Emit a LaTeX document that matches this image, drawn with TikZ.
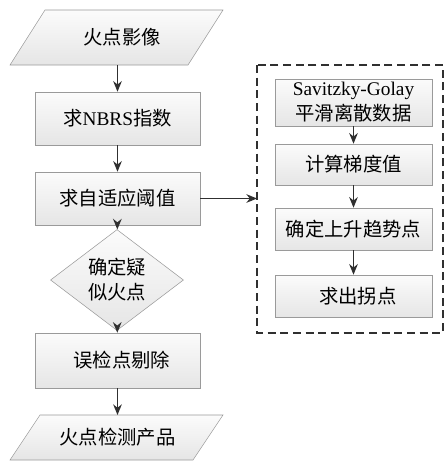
\documentclass[tikz,border=0pt]{standalone}
\usepackage{fontspec}
\setmainfont{Liberation Serif}
\newfontfamily\cjk{Noto Sans CJK SC}
\usetikzlibrary{shapes.geometric,arrows.meta}
\definecolor{edgegray}{HTML}{9A9A9A}
\definecolor{linegray}{HTML}{303030}
\tikzset{
  boxstyle/.style={draw=edgegray, top color=gray!3, bottom color=gray!20, minimum width=123.75pt, inner sep=1pt, align=center, font=\fontsize{14.5}{18.75}\selectfont},
  rboxstyle/.style={boxstyle, minimum width=117.75pt},
  plabel/.style={inner sep=0pt, minimum width=100pt, minimum height=41.25pt, font=\fontsize{14.5}{18.75}\selectfont},
  flow/.style={draw=linegray, line width=0.9pt, -{Stealth[length=8pt,width=6.5pt]}},
}
\begin{document}
\begin{tikzpicture}[x=0.75pt,y=-0.75pt]
\useasboundingbox (0,0) rectangle (447,468);
% top parallelogram
\coordinate (p1a) at (10,65); \coordinate (p1b) at (45,10); \coordinate (p1c) at (223,10); \coordinate (p1d) at (188,65);
\draw[edgegray, top color=gray!3, bottom color=gray!20] (p1a) -- (p1b) -- (p1c) -- (p1d) -- cycle;
\node[plabel] (n1) at (122,37.5) {\cjk 火点影像};
\coordinate (n1s) at (117.5,65);
% boxes
\node[boxstyle, minimum height=39.75pt] (n2) at (117.5,118.5) {{\cjk 求}NBRS{\cjk 指数}};
\node[boxstyle, minimum height=39.75pt] (n3) at (117.5,198.5) {\cjk 求自适应阈值};
\node[draw=edgegray, top color=gray!3, bottom color=gray!20, shape=diamond, minimum width=99.75pt, minimum height=52.5pt, inner sep=0pt, align=center, font=\fontsize{14.5}{18.75}\selectfont] (n4) at (117,280) {\cjk 确定疑\\\cjk 似火点};
\node[boxstyle, minimum height=41.25pt] (n5) at (117.5,360.5) {\cjk\ \ 误检点剔除};
% bottom parallelogram
\coordinate (p2a) at (10,460); \coordinate (p2b) at (40,415); \coordinate (p2c) at (223,415); \coordinate (p2d) at (193,460);
\draw[edgegray, top color=gray!3, bottom color=gray!20] (p2a) -- (p2b) -- (p2c) -- (p2d) -- cycle;
\node[plabel, minimum height=33.75pt] (n6) at (117.5,437.5) {\cjk 火点检测产品};
\coordinate (n6n) at (117.5,415);
% right dashed group
\draw[linegray, line width=1.1pt, dash pattern=on 6pt off 3.5pt] (257,65) rectangle (443,333);
\coordinate (grp) at (257,198.5);
\node[rboxstyle, minimum height=35.25pt] (r1) at (353.5,102.5) {Savitzky-Golay\\{\cjk 平滑离散数据}};
\node[rboxstyle, minimum height=30.75pt] (r2) at (353.5,164.5) {\cjk 计算梯度值};
\node[rboxstyle, minimum height=31.5pt] (r3) at (353.5,229) {\cjk 确定上升趋势点};
\node[rboxstyle, minimum height=31.5pt] (r4) at (353.5,296) {\cjk\ \ 求出拐点};
% connectors
\draw[flow] (n1s) -- (n2.north);
\draw[flow] (n2) -- (n3);
\draw[flow] (n3) -- (n4);
\draw[flow] (n4) -- (n5);
\draw[flow] (n5.south) -- (n6n);
\draw[flow] (n3.east) -- (grp);
\draw[flow] (r1) -- (r2);
\draw[flow] (r2) -- (r3);
\draw[flow] (r3) -- (r4);
\end{tikzpicture}
\end{document}
